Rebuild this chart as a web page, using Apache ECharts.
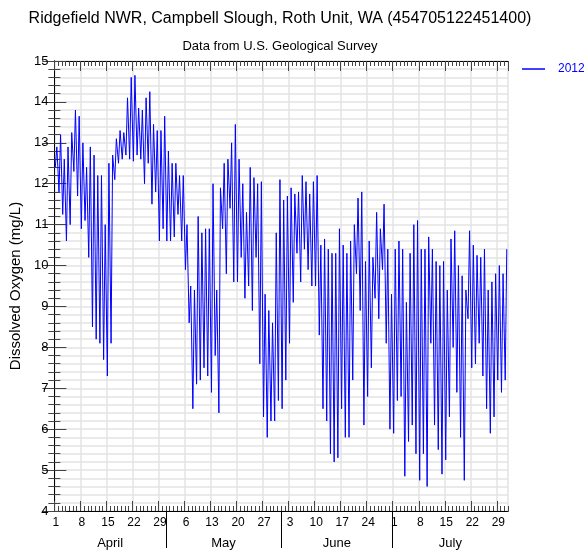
<!DOCTYPE html>
<html>
<head>
<meta charset="utf-8">
<title>Ridgefield NWR dissolved oxygen</title>
<style>
  html, body { margin: 0; padding: 0; background: #fff; }
  #chart { width: 584px; height: 554px; }
</style>
</head>
<body>
<div id="chart"></div>
<script src="https://cdn.jsdelivr.net/npm/echarts@6/dist/echarts.min.js"></script>
<script>
// daily low / high of dissolved oxygen (mg/L), 1 Apr .. 31 Jul 2012
var dailyLow = [
  12.4, 11.8, 11.25, 10.6, 11.0, 12.3, 11.7, 10.9, 11.1, 10.2,
  8.5, 8.2, 8.1, 7.7, 7.3, 8.1, 12.1, 12.5, 12.6, 12.7,
  12.6, 12.55, 12.7, 12.6, 12.0, 12.5, 11.5, 11.8, 10.6, 10.9,
  10.6, 10.6, 10.7, 11.25, 10.6, 9.9, 8.6, 6.5, 7.1, 7.2,
  7.5, 7.3, 6.9, 7.8, 6.4, 10.9, 9.8, 11.4, 9.6, 9.6,
  10.2, 9.2, 9.5, 8.9, 10.2, 7.6, 6.3, 5.8, 6.2, 6.2,
  6.7, 6.5, 7.2, 8.1, 9.1, 10.3, 9.6, 10.4, 9.9, 9.5,
  9.5, 8.3, 6.5, 6.2, 5.4, 5.2, 5.3, 6.5, 5.8, 5.8,
  7.2, 9.8, 8.9, 6.1, 6.8, 7.5, 9.2, 8.7, 9.9, 8.1,
  6.0, 5.9, 6.7, 6.8, 4.85, 5.7, 6.1, 5.4, 4.75, 5.4,
  4.6, 8.1, 6.1, 5.5, 4.9, 5.25, 6.3, 8.0, 6.9, 5.8,
  4.75, 8.7, 7.5, 7.6, 8.1, 7.3, 6.5, 5.9, 6.3, 7.2,
  6.9, 7.2
];
var dailyHigh = [
  12.9, 13.2, 12.6, 12.9, 13.25, 13.8, 13.65, 13.0, 12.4, 12.9,
  12.7, 12.2, 12.2, 11.0, 12.5, 12.7, 13.1, 13.3, 13.25, 14.1,
  14.6, 14.65, 13.85, 13.8, 14.1, 14.25, 13.45, 13.3, 13.3, 13.65,
  12.8, 12.5, 12.5, 12.2, 12.2, 11.0, 9.5, 9.4, 11.2, 10.8,
  10.9, 10.9, 12.0, 9.4, 11.9, 12.5, 12.6, 13.0, 13.45, 12.6,
  12.0, 11.3, 12.4, 12.15, 12.0, 12.05, 9.3, 8.9, 8.6, 10.8,
  12.1, 11.6, 11.7, 11.9, 11.75, 11.8, 12.2, 12.05, 11.75, 12.05,
  12.2, 10.5, 10.65, 10.4, 10.3, 10.3, 10.9, 10.5, 10.3, 10.6,
  11.0, 11.65, 11.8, 10.1, 10.6, 10.2, 11.3, 10.9, 11.5, 10.4,
  9.3, 10.4, 10.6, 10.4, 9.1, 10.3, 11.0, 11.1, 10.4, 10.4,
  10.7, 10.4, 10.1, 10.0, 10.1, 9.4, 10.65, 10.85, 10.0, 9.75,
  9.4, 10.85, 10.5, 10.25, 10.2, 10.4, 9.4, 9.6, 9.8, 10.0,
  9.8, 10.4
];
var monthNames = ['April', 'May', 'June', 'July'];
var monthStart = [30, 61, 91];          // day index where May, June, July begin
var monthMid = [15, 45.5, 76, 106.5];   // day index at the middle of each month
var seriesName = '2012';

var FONT = 'Liberation Sans, Arial, sans-serif';
var GRID_COLOR = '#e3e3e3';
var TICK_COLOR = '#444';

var doData = [];
for (var d = 0; d < dailyLow.length; d++) {
  doData.push([d + 0.25, dailyLow[d]]);
  doData.push([d + 0.67, dailyHigh[d]]);
}

function dayOfMonth(v) {
  var t = new Date(2012, 3, 1 + Math.round(v));
  return String(t.getDate());
}

function dayAxis(pos, interval, len, withLabels) {
  return {
    type: 'value',
    position: pos,
    min: 0,
    max: 122,
    interval: interval,
    axisLine: { show: true, onZero: false, lineStyle: { color: '#000', width: 1 } },
    axisTick: { show: true, inside: true, length: len, lineStyle: { color: TICK_COLOR } },
    axisLabel: withLabels ? {
      show: true,
      showMaxLabel: false,
      margin: 6,
      fontSize: 12,
      fontFamily: FONT,
      color: '#000',
      padding: [0, 0, 0, 3],
      formatter: dayOfMonth
    } : { show: false },
    splitLine: { show: withLabels, lineStyle: { color: GRID_COLOR, width: 1.5 } }
  };
}

var option = {
  animation: false,
  backgroundColor: '#fff',
  title: [
    {
      text: 'Ridgefield NWR, Campbell Slough, Roth Unit, WA (454705122451400)',
      left: 275,
      top: 6,
      textAlign: 'center',
      textStyle: { fontSize: 16, fontWeight: 'normal', color: '#000', fontFamily: FONT }
    },
    {
      text: 'Data from U.S. Geological Survey',
      left: 275,
      top: 35,
      textAlign: 'center',
      textStyle: { fontSize: 13, fontWeight: 'normal', color: '#000', fontFamily: FONT }
    }
  ],
  legend: {
    left: 517,
    top: 58,
    itemWidth: 23,
    itemHeight: 1.5,
    data: [{ name: seriesName, icon: 'rect' }],
    textStyle: { color: '#0000ff', fontSize: 12, fontFamily: FONT, padding: [0, 0, 0, 8] }
  },
  grid: { left: 52, right: 76, top: 61, bottom: 43 },
  xAxis: [
    dayAxis('bottom', 7, 10, true),
    dayAxis('bottom', 1, 5, false),
    dayAxis('top', 7, 10, false),
    dayAxis('top', 1, 5, false),
    {
      type: 'value',
      position: 'bottom',
      min: 0,
      max: 122,
      axisLine: { show: false },
      axisTick: { show: true, length: 37, customValues: monthStart, lineStyle: { color: '#000' } },
      axisLabel: {
        show: true,
        margin: 26,
        fontSize: 13,
        fontFamily: FONT,
        color: '#000',
        customValues: monthMid,
        formatter: function (v) {
          return monthNames[monthMid.indexOf(v)];
        }
      },
      splitLine: { show: false }
    }
  ],
  yAxis: [
    {
      type: 'value',
      position: 'left',
      min: 4,
      max: 15,
      interval: 1,
      name: 'Dissolved Oxygen (mg/L)',
      nameLocation: 'middle',
      nameGap: 23,
      nameTextStyle: { fontSize: 15, fontFamily: FONT, color: '#000' },
      axisLine: { show: true, lineStyle: { color: '#000' } },
      axisTick: { show: true, inside: true, length: 12, lineStyle: { color: TICK_COLOR } },
      minorTick: { show: true, splitNumber: 5, length: 6, lineStyle: { color: TICK_COLOR } },
      axisLabel: { margin: 6, fontSize: 13, fontFamily: FONT, color: '#000' },
      splitLine: { show: true, lineStyle: { color: GRID_COLOR, width: 1.5 } },
      minorSplitLine: { show: true, lineStyle: { color: GRID_COLOR, width: 1.5 } }
    },
    {
      type: 'value',
      position: 'right',
      min: 4,
      max: 15,
      interval: 1,
      axisLine: { show: true, lineStyle: { color: '#000' } },
      axisTick: { show: true, inside: true, length: 12, lineStyle: { color: TICK_COLOR } },
      minorTick: { show: true, splitNumber: 5, length: 6, lineStyle: { color: TICK_COLOR } },
      axisLabel: { show: false },
      splitLine: { show: false }
    }
  ],
  series: [
    {
      name: seriesName,
      type: 'line',
      xAxisIndex: 0,
      yAxisIndex: 0,
      showSymbol: false,
      symbol: 'none',
      lineStyle: { color: '#0000ff', width: 1 },
      itemStyle: { color: '#0000ff' },
      data: doData
    }
  ]
};

var chart = echarts.init(document.getElementById('chart'));
chart.setOption(option);
</script>
</body>
</html>
